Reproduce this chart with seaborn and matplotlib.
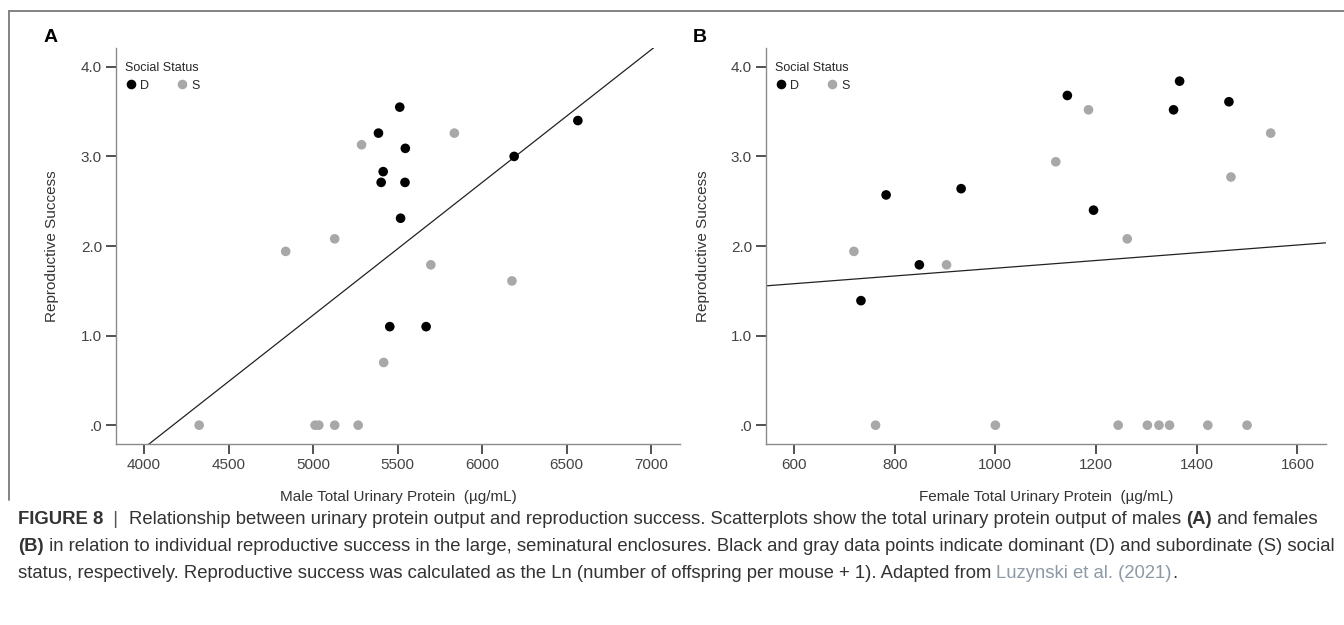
import numpy as np
import pandas as pd
import seaborn as sns
import matplotlib.pyplot as plt
from matplotlib.lines import Line2D

sns.set_style("ticks")
plt.rcParams["font.family"] = ["Liberation Sans", "DejaVu Sans"]

# panel A - males, protein (ug/mL) and reproductive success
male_d_protein = [5513, 5387, 5546, 5415, 5403, 5544, 5518, 6190, 6567, 5454, 5669]
male_d_success = [3.55, 3.26, 3.09, 2.83, 2.71, 2.71, 2.31, 3.00, 3.40, 1.10, 1.10]
male_s_protein = [5287, 5836, 5128, 4838, 5697, 6177, 5418, 4326, 5012, 5034, 5128, 5267]
male_s_success = [3.13, 3.26, 2.08, 1.94, 1.79, 1.61, 0.70, 0.0, 0.0, 0.0, 0.0, 0.0]

# panel B - females
female_d_protein = [1143, 1366, 1354, 1464, 783, 932, 1195, 849, 733]
female_d_success = [3.68, 3.84, 3.52, 3.61, 2.57, 2.64, 2.40, 1.79, 1.39]
female_s_protein = [1185, 1547, 1120, 1468, 1262, 719, 903, 762, 1000, 1244, 1302, 1325, 1346, 1422, 1500]
female_s_success = [3.52, 3.26, 2.94, 2.77, 2.08, 1.94, 1.79, 0, 0, 0, 0, 0, 0, 0, 0]

y_ticks = [0, 1, 2, 3, 4]
y_ticklabels = [".0", "1.0", "2.0", "3.0", "4.0"]
male_xticks = [4000, 4500, 5000, 5500, 6000, 6500, 7000]
female_xticks = [600, 800, 1000, 1200, 1400, 1600]

palette = {"D": "black", "S": "#a8a8a8"}
txt = "#333333"


def make_df(dp, ds, sp, ss):
    return pd.DataFrame({
        "protein": dp + sp,
        "success": ds + ss,
        "status": ["D"] * len(dp) + ["S"] * len(sp),
    })


def draw_panel(ax, df, xlim, xticks, xlabel, letter):
    ax.set_xlim(xlim)
    ax.set_ylim(-0.21, 4.21)
    # least squares fit line across the whole axis, like the original
    sns.regplot(data=df, x="protein", y="success", ax=ax, scatter=False, ci=None,
                truncate=False, color="#222222", line_kws={"linewidth": 0.9})
    sns.scatterplot(data=df, x="protein", y="success", hue="status", palette=palette,
                    hue_order=["D", "S"], s=48, linewidth=0, ax=ax, zorder=3)
    ax.set_xlim(xlim)
    ax.set_ylim(-0.21, 4.21)
    ax.set_xticks(xticks)
    ax.set_yticks(y_ticks)
    ax.set_yticklabels(y_ticklabels)
    for s in ["top", "right"]:
        ax.spines[s].set_visible(False)
    for s in ["left", "bottom"]:
        ax.spines[s].set_color("#8a8a8a")
        ax.spines[s].set_linewidth(1.0)
    ax.tick_params(length=7, width=1.2, color="#333333", labelsize=11,
                   labelcolor="#444444", pad=3)
    ax.set_xlabel(xlabel, fontsize=11, color=txt)
    ax.set_ylabel("Reproductive Success", fontsize=11, color=txt)
    ax.xaxis.set_label_coords(0.5, -0.115)
    ax.yaxis.set_label_coords(-0.1, 0.5)
    sns.move_legend(ax, "upper left", bbox_to_anchor=(0.0, 0.988), title="Social Status",
                    ncol=2, frameon=False, fontsize=9, title_fontsize=9,
                    handlelength=1.0, handletextpad=0.25, columnspacing=2.1,
                    borderaxespad=0.3, markerscale=1.0, alignment="left")
    pos = ax.get_position()
    ax.figure.text(pos.x0 - 0.054, pos.y1 + 0.004, letter, fontsize=14,
                   fontweight="bold", color="black", ha="left", va="bottom")


fig = plt.figure(figsize=(13.44, 6.25), dpi=100)
axA = fig.add_axes([0.0862, 0.2896, 0.4197, 0.6336])
axB = fig.add_axes([0.5698, 0.2896, 0.4165, 0.6336])

draw_panel(axA, make_df(male_d_protein, male_d_success, male_s_protein, male_s_success),
           (3833, 7171), male_xticks, "Male Total Urinary Protein  (µg/mL)", "A")
draw_panel(axB, make_df(female_d_protein, female_d_success, female_s_protein, female_s_success),
           (544, 1656), female_xticks, "Female Total Urinary Protein  (µg/mL)", "B")

# figure frame (top and left edge)
fig.add_artist(Line2D([9 / 1344, 1.0], [1 - 11 / 625] * 2, color="#7a7a7a", lw=1.3))
fig.add_artist(Line2D([9 / 1344] * 2, [1 - 11 / 625, 1 - 500 / 625], color="#7a7a7a", lw=1.3))

# caption, built from pieces so bold parts stay inline
caption = [
    [("FIGURE 8", "bold", txt), ("  |  ", "normal", "#555555"),
     ("Relationship between urinary protein output and reproduction success. Scatterplots show "
      "the total urinary protein output of males ", "normal", txt),
     ("(A)", "bold", txt), (" and females", "normal", txt)],
    [("(B)", "bold", txt),
     (" in relation to individual reproductive success in the large, seminatural enclosures. "
      "Black and gray data points indicate dominant (D) and subordinate (S) social", "normal", txt)],
    [("status, respectively. Reproductive success was calculated as the Ln (number of offspring "
      "per mouse + 1). Adapted from ", "normal", txt),
     ("Luzynski et al. (2021)", "normal", "#8d99a6"), (".", "normal", txt)],
]
cap_size = 13.3
line_y = [1 - 528 / 625, 1 - 555 / 625, 1 - 582 / 625]
for pieces, y in zip(caption, line_y):
    prev = None
    for s, w, c in pieces:
        if prev is None:
            prev = fig.text(18 / 1344, y, s, fontsize=cap_size, fontweight=w, color=c,
                            ha="left", va="bottom")
        else:
            prev = axA.annotate(s, xy=(1, 0), xycoords=prev, fontsize=cap_size, fontweight=w,
                                color=c, ha="left", va="bottom", annotation_clip=False)

fig.savefig("out.png", dpi=100)
